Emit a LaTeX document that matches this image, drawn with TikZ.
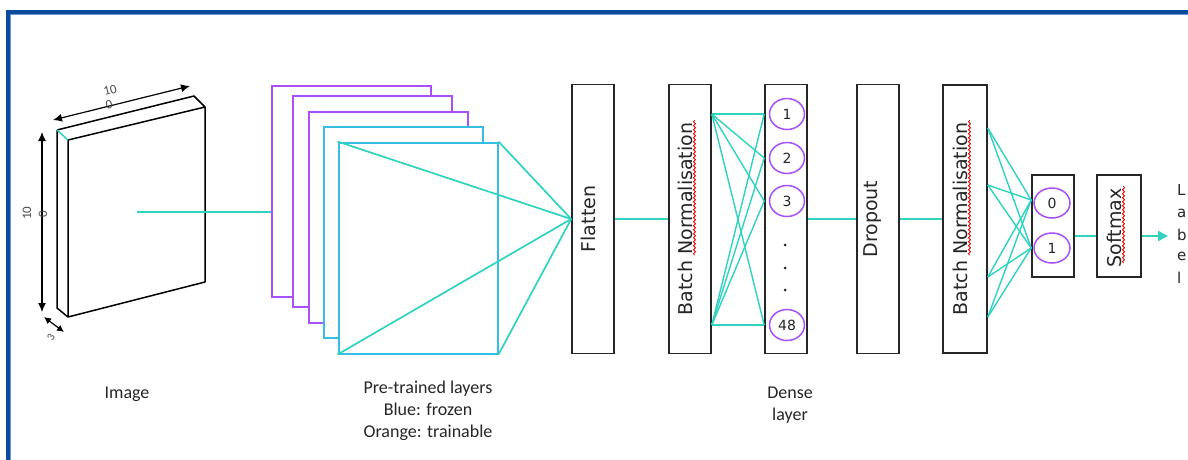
\documentclass[tikz,border=0pt]{standalone}
\usepackage{fontspec}
\setmainfont{Carlito}
\newfontfamily\vfont{DejaVu Sans}
\usetikzlibrary{arrows.meta,decorations.pathmorphing,shapes.geometric}
\definecolor{cyanl}{HTML}{2FD3BF}
\definecolor{purp}{HTML}{A851FA}
\definecolor{bluel}{HTML}{35BDE2}
\definecolor{frameblue}{HTML}{0B4C9A}
\definecolor{framelight}{HTML}{6C97D4}
\definecolor{txt}{HTML}{262626}
\begin{document}
\begin{tikzpicture}[x=1pt,y=-1pt,
  lbox/.style={draw=black!85, line width=1.6, fill=white, inner sep=0, rectangle},
  conn/.style={draw=cyanl, line width=1.7},
  hconn/.style={draw=cyanl, line width=2},
  pur/.style={draw=purp, line width=2, fill=white, minimum width=159, minimum height=211, inner sep=0},
  blu/.style={draw=bluel, line width=2, fill=white, minimum width=159, minimum height=211, inner sep=0},
  neuron/.style={ellipse, draw=purp, line width=1.5, minimum width=35, minimum height=31, inner sep=0, text=txt, font=\vfont\fontsize{14}{16}\selectfont},
  vtext/.style={rotate=90, font=\vfont\fontsize{19}{22}\selectfont, text=txt, inner sep=0},
  spell/.style={draw=red!85!black, line width=0.8, decorate, decoration={snake, amplitude=1pt, segment length=4pt}},
  lbl/.style={font=\fontsize{18}{22}\selectfont, text=txt, align=center},
  dim/.style={draw=black, line width=1.2, {Latex[length=9pt,width=8pt]}-{Latex[length=9pt,width=8pt]}},
  dimlbl/.style={font=\fontsize{13}{15}\selectfont, text=black!70, inner sep=0},
  dotn/.style={circle, fill=txt, inner sep=0, minimum size=3}
]
\clip (0,0) rectangle (1188,459);
\fill[white] (0,0) rectangle (1188,459);
% frame
\draw[frameblue, line width=4] (8,470) -- (8,12) -- (1200,12);
\draw[framelight, line width=1] (10.5,470) -- (10.5,14.5) -- (1200,14.5);

% ---------- image cuboid ----------
\coordinate (fTL) at (68,140);
\coordinate (fTR) at (205,107);
\coordinate (fBR) at (205,282);
\coordinate (fBL) at (68,317);
\coordinate (bTL) at (57,130);
\coordinate (bTR) at (194,96);
\coordinate (bBL) at (57,308);
\draw[black, line width=1.5, fill=white, line join=round]
  (fTL) -- (fTR) -- (fBR) -- (fBL) -- cycle
  (bTL) -- (bTR) -- (fTR)
  (bTL) -- (bBL) -- (fBL);
\draw[cyanl, line width=1.5] (bTL) -- (fTL);
% dimension arrows
\coordinate (dTa) at (53,120);
\coordinate (dTb) at (190,86);
\draw[dim] (dTa) -- (dTb);
\node[dimlbl, rotate=14] (dT10) at (110,90) {10};
\node[dimlbl, rotate=14] (dT0) at (109,105) {0};
\coordinate (dLa) at (42,132);
\coordinate (dLb) at (42,312);
\draw[dim] (dLa) -- (dLb);
\node[dimlbl, rotate=90] (dL10) at (27,213) {10};
\node[dimlbl, rotate=90] (dL0) at (43,214) {0};
\coordinate (dSa) at (44,317);
\coordinate (dSb) at (64,332);
\draw[draw=black, line width=1.2, {Latex[length=7pt,width=7pt]}-{Latex[length=7pt,width=7pt]}] (dSa) -- (dSb);
\node[dimlbl, rotate=60, font=\fontsize{11}{12}\selectfont] (dS3) at (51,337) {3};
\coordinate (imgc) at (137,212);

% ---------- pre-trained layers ----------
\node[pur] (p1) at (351.5,191) {};
\node[pur] (p2) at (372.5,201.5) {};
\node[pur] (p3) at (388,217) {};
\node[blu] (p4) at (403,232.5) {};
\node[blu] (p5) at (418,248) {};
\draw[hconn] (imgc) -- (imgc -| p1.west);

% ---------- layer boxes ----------
\node[lbox, minimum width=42, minimum height=269] (flat) at (593,219) {};
\node[lbox, minimum width=42, minimum height=269] (bn1) at (690,219) {};
\node[lbox, minimum width=42, minimum height=269] (dense) at (786,219) {};
\node[lbox, minimum width=42, minimum height=269] (drop) at (878,219) {};
\node[lbox, minimum width=44, minimum height=268] (bn2) at (965,219) {};
\node[lbox, minimum width=42, minimum height=102] (out) at (1053,226) {};
\node[lbox, minimum width=44, minimum height=102] (sm) at (1119,226) {};

\node[vtext] (flatT) at ([xshift=-5pt]flat.center) {Flatten};
\node[vtext] (bn1T) at ([xshift=-5pt]bn1.center) {Batch Normalisation};
\node[vtext] (dropT) at ([xshift=-5pt]drop.center) {Dropout};
\node[vtext] (bn2T) at ([xshift=-5pt]bn2.center) {Batch Normalisation};
\node[vtext] (smT) at ([xshift=-5pt,yshift=-2pt]sm.center) {Softmax};

% spell-check underlines
\draw[spell] (694.5,255) -- (694.5,120);
\draw[spell] (969.5,255) -- (969.5,120);
\draw[spell] (1123.5,263) -- (1123.5,186);

% pretrained -> flatten
\draw[conn] (p5.north west) -- (flat.west);
\draw[conn] (p5.south west) -- (flat.west);
\draw[conn] (p5.north east) -- (flat.west);
\draw[conn] (p5.south east) -- (flat.west);
\draw[hconn] (flat.east) -- (bn1.west);

% dense neurons
\node[neuron] (d1) at (787,114) {1};
\node[neuron] (d2) at (787,158) {2};
\node[neuron] (d3) at (787,201) {3};
\node[neuron] (d4) at (787,325) {48};
\node[dotn] (dt1) at (785,245) {};
\node[dotn] (dt2) at (785,268) {};
\node[dotn] (dt3) at (785,290) {};

\coordinate (s1) at (bn1.east |- d1);
\coordinate (s2) at (bn1.east |- d4);
\foreach \s in {s1,s2}{
  \foreach \t in {d1,d2,d3,d4}{
    \draw[conn, line width=1.4] (\s) -- (dense.west |- \t);
  }
}
\draw[hconn] (dense.east) -- (drop.west);
\draw[hconn] (drop.east) -- (bn2.west);

% output neurons
\node[neuron, minimum width=36, minimum height=30] (o0) at (1052,203) {0};
\node[neuron, minimum width=36, minimum height=30] (o1) at (1052,248) {1};
\coordinate (q1) at (987,128);
\coordinate (q2) at (987,185);
\coordinate (q3) at (987,277);
\coordinate (q4) at (987,317);
\coordinate (t0) at (1032,200);
\foreach \s in {q1,q2,q3,q4}{
  \draw[conn, line width=1.4] (\s -| bn2.east) -- (t0 -| out.west);
  \draw[conn, line width=1.4] (\s -| bn2.east) -- (out.west |- o1);
}
\coordinate (oy) at (0,236);
\draw[hconn] (out.east |- oy) -- (sm.west |- oy);
\coordinate (arrEnd) at (1168,236);
\draw[hconn, -{Triangle[length=10pt,width=10pt]}] (sm.east |- oy) -- (arrEnd);

% right-hand clipped text
\node[anchor=west, inner sep=0, text=txt, font=\vfont\fontsize{15}{18}\selectfont] (lbL) at (1177,190) {L};
\node[anchor=west, inner sep=0, text=txt, font=\vfont\fontsize{15}{18}\selectfont] (lba) at (1177,213) {a};
\node[anchor=west, inner sep=0, text=txt, font=\vfont\fontsize{15}{18}\selectfont] (lbb) at (1177,235) {b};
\node[anchor=west, inner sep=0, text=txt, font=\vfont\fontsize{15}{18}\selectfont] (lbe) at (1177,256) {e};
\node[anchor=west, inner sep=0, text=txt, font=\vfont\fontsize{15}{18}\selectfont] (lbl2) at (1177,278) {l};

% bottom labels
\node[lbl] (imgL) at (127,394) {Image};
\node[lbl] (preL) at (428,411) {Pre-trained layers\\Blue: frozen\\Orange: trainable};
\node[lbl] (denseL) at (790,405) {Dense\\layer};
\end{tikzpicture}
\end{document}
